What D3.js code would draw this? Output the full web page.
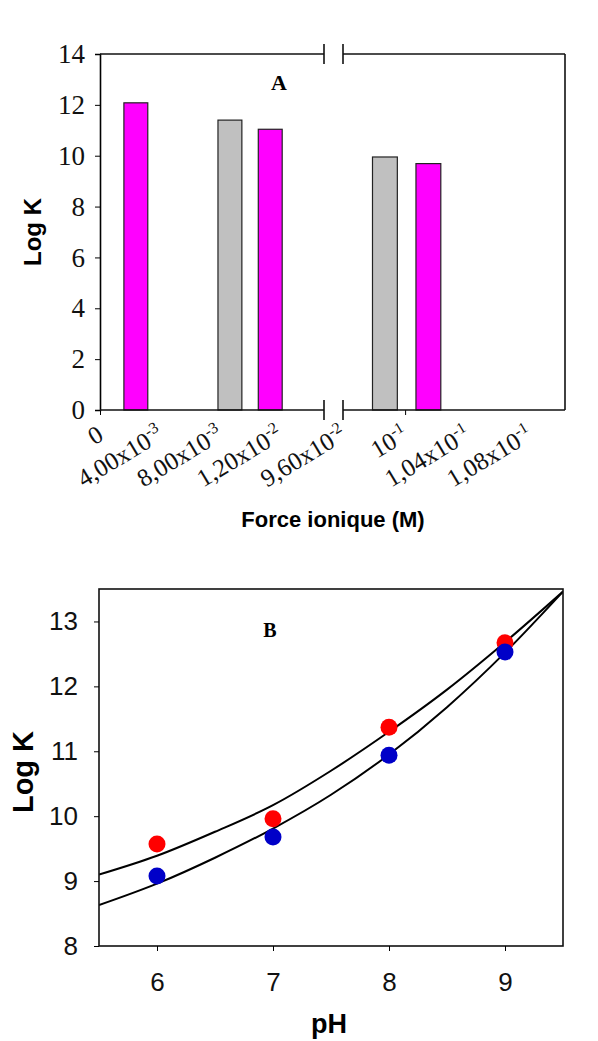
<!DOCTYPE html>
<meta charset="utf-8">
<style>
body { margin: 0; background: #fff; }
svg { display: block; }
.serif { font-family: "Liberation Serif", "Times New Roman", serif; }
.sans { font-family: "Liberation Sans", Arial, sans-serif; }
</style>
<svg width="598" height="1041"></svg>
<script src="https://cdn.jsdelivr.net/npm/d3@7"></script>
<script>

// ---- panel A : log K vs ionic strength (broken x axis) ----
var barIonic = [0.0024, 0.0087, 0.0114, 0.0987, 0.1015];
var barLogK = [12.08, 11.40, 11.04, 9.95, 9.69];
var barSeries = ["m", "g", "m", "g", "m"];

var ionicTicks = [0, 0.004, 0.008, 0.012, 0.096, 0.1, 0.104, 0.108];
var ionicMant = ["0", "4,00x10", "8,00x10", "1,20x10", "9,60x10", "10", "1,04x10", "1,08x10"];
var ionicExp = ["", "-3", "-3", "-2", "-2", "-1", "-1", "-1"];
var logKTicksA = [0, 2, 4, 6, 8, 10, 12, 14];

// ---- panel B : log K vs pH ----
var pH = [6, 7, 8, 9];
var logKRed = [9.57, 9.96, 11.37, 12.67];
var logKBlue = [9.08, 9.68, 10.94, 12.53];
var logKTicksB = [8, 9, 10, 11, 12, 13];

var fitPH = [5.5, 6.0, 6.5, 7.0, 7.5, 8.0, 8.5, 9.0, 9.5];
var fitUpper = [9.10, 9.39, 9.76, 10.17, 10.70, 11.30, 11.95, 12.68, 13.46];
var fitLower = [8.63, 8.96, 9.36, 9.81, 10.33, 10.95, 11.68, 12.52, 13.46];

var svg = d3.select("svg");
var colors = {m: "#ff00ff", g: "#c0c0c0"};

// ================= PANEL A =================
var A = {left: 100, right: 565, top: 54, bottom: 410, brk1: 324, brk2: 343};

var xA = d3.scaleLinear()
    .domain([0, 0.015, 0.096, 0.1103])
    .range([A.left, A.brk1, A.brk2, A.right]);
var yA = d3.scaleLinear().domain([0, 14]).range([A.bottom, A.top]);

var gA = svg.append("g");

gA.selectAll("rect.bar")
    .data(barIonic)
  .enter().append("rect")
    .attr("class", "bar")
    .attr("x", function(d) { return xA(d - 0.0008); })
    .attr("width", function(d) { return xA(d + 0.0008) - xA(d - 0.0008); })
    .attr("y", function(d, i) { return yA(barLogK[i]); })
    .attr("height", function(d, i) { return yA(0) - yA(barLogK[i]); })
    .attr("fill", function(d, i) { return colors[barSeries[i]]; })
    .attr("stroke", "#222")
    .attr("stroke-width", 1.2);

// left axis
var axA = gA.append("g")
    .attr("transform", "translate(" + A.left + ",0)")
    .call(d3.axisLeft(yA).tickValues(logKTicksA).tickSize(5).tickPadding(10));
axA.attr("font-size", null).attr("font-family", null);
axA.select(".domain").attr("stroke-width", 1.6);
axA.selectAll("text").attr("class", "serif").style("font-size", "27px").attr("fill", "#111");

// bottom ticks (only at 0 and 0.1)
var axB = gA.append("g")
    .attr("transform", "translate(0," + A.bottom + ")")
    .call(d3.axisBottom(xA).tickValues([0, 0.1]).tickSize(5).tickFormat(""));
axB.select(".domain").remove();

// frame segments with the break
var frame = [
  [A.left, A.bottom, A.brk1, A.bottom],
  [A.brk2, A.bottom, A.right, A.bottom],
  [A.left, A.top, A.brk1, A.top],
  [A.brk2, A.top, A.right, A.top],
  [A.right, A.top, A.right, A.bottom],
  [A.brk1, A.top - 10, A.brk1, A.top + 10],
  [A.brk2, A.top - 10, A.brk2, A.top + 10],
  [A.brk1, A.bottom - 10, A.brk1, A.bottom + 10],
  [A.brk2, A.bottom - 10, A.brk2, A.bottom + 10]
];
gA.selectAll("line.frame")
    .data(frame)
  .enter().append("line")
    .attr("class", "frame")
    .attr("x1", function(d) { return d[0]; })
    .attr("y1", function(d) { return d[1]; })
    .attr("x2", function(d) { return d[2]; })
    .attr("y2", function(d) { return d[3]; })
    .attr("stroke", "#111")
    .attr("stroke-width", 1.6);

// rotated x tick labels
var xl = gA.selectAll("text.xl")
    .data(ionicTicks)
  .enter().append("text")
    .attr("class", "xl serif")
    .style("font-size", "25px")
    .attr("fill", "#111")
    .attr("text-anchor", "end")
    .attr("transform", function(d) { return "translate(" + (xA(d) + 5) + "," + (A.bottom + 29) + ") rotate(-31)"; });
xl.append("tspan").text(function(d, i) { return ionicMant[i]; });
xl.append("tspan")
    .style("font-size", "16px")
    .attr("dy", -10)
    .text(function(d, i) { return ionicExp[i]; });

gA.append("text")
    .attr("class", "serif")
    .attr("x", 279).attr("y", 90)
    .attr("text-anchor", "middle")
    .style("font-size", "22px").attr("font-weight", "bold")
    .text("A");

gA.append("text")
    .attr("class", "sans")
    .attr("transform", "translate(41,232) rotate(-90)")
    .attr("text-anchor", "middle")
    .style("font-size", "24px").attr("font-weight", "bold")
    .text("Log K");

gA.append("text")
    .attr("class", "sans")
    .attr("x", 333).attr("y", 527)
    .attr("text-anchor", "middle")
    .style("font-size", "22px").attr("font-weight", "bold")
    .text("Force ionique (M)");

// ================= PANEL B =================
var B = {left: 99, right: 563, top: 589, bottom: 946};
var xB = d3.scaleLinear().domain([5.5, 9.5]).range([B.left, B.right]);
var yB = d3.scaleLinear().domain([8, 13.5]).range([B.bottom, B.top]);

var gB = svg.append("g");

gB.append("clipPath").attr("id", "clipB")
  .append("rect")
    .attr("x", B.left).attr("y", B.top)
    .attr("width", B.right - B.left).attr("height", B.bottom - B.top);

var line = d3.line()
    .x(function(d, i) { return xB(fitPH[i]); })
    .y(function(d) { return yB(d); })
    .curve(d3.curveMonotoneX);

gB.selectAll("path.fit")
    .data([fitUpper, fitLower])
  .enter().append("path")
    .attr("class", "fit")
    .attr("clip-path", "url(#clipB)")
    .attr("d", line)
    .attr("fill", "none")
    .attr("stroke", "#000")
    .attr("stroke-width", 2);

gB.selectAll("circle.red")
    .data(pH)
  .enter().append("circle")
    .attr("class", "red")
    .attr("cx", function(d) { return xB(d); })
    .attr("cy", function(d, i) { return yB(logKRed[i]); })
    .attr("r", 8.5)
    .attr("fill", "#ff0000");

gB.selectAll("circle.blue")
    .data(pH)
  .enter().append("circle")
    .attr("class", "blue")
    .attr("cx", function(d) { return xB(d); })
    .attr("cy", function(d, i) { return yB(logKBlue[i]); })
    .attr("r", 8.5)
    .attr("fill", "#0000c8");

gB.append("rect")
    .attr("x", B.left).attr("y", B.top)
    .attr("width", B.right - B.left).attr("height", B.bottom - B.top)
    .attr("fill", "none").attr("stroke", "#111").attr("stroke-width", 1.6);

var ayB = gB.append("g")
    .attr("transform", "translate(" + B.left + ",0)")
    .call(d3.axisLeft(yB).tickValues(logKTicksB).tickFormat(d3.format("d")).tickSize(5).tickPadding(16));
ayB.select(".domain").remove();
ayB.selectAll("text").attr("class", "sans").style("font-size", "26px").attr("fill", "#111");

var axB2 = gB.append("g")
    .attr("transform", "translate(0," + B.bottom + ")")
    .call(d3.axisBottom(xB).tickValues(pH).tickFormat(d3.format("d")).tickSize(5).tickPadding(22));
axB2.select(".domain").remove();
axB2.selectAll("text").attr("class", "sans").style("font-size", "26px").attr("fill", "#111");

gB.append("text")
    .attr("class", "serif")
    .attr("x", 270).attr("y", 637)
    .attr("text-anchor", "middle")
    .style("font-size", "20px").attr("font-weight", "bold")
    .text("B");

gB.append("text")
    .attr("class", "sans")
    .attr("transform", "translate(33,772) rotate(-90)")
    .attr("text-anchor", "middle")
    .style("font-size", "29px").attr("font-weight", "bold")
    .text("Log K");

gB.append("text")
    .attr("class", "sans")
    .attr("x", 329).attr("y", 1033)
    .attr("text-anchor", "middle")
    .style("font-size", "27px").attr("font-weight", "bold")
    .text("pH");

</script>
